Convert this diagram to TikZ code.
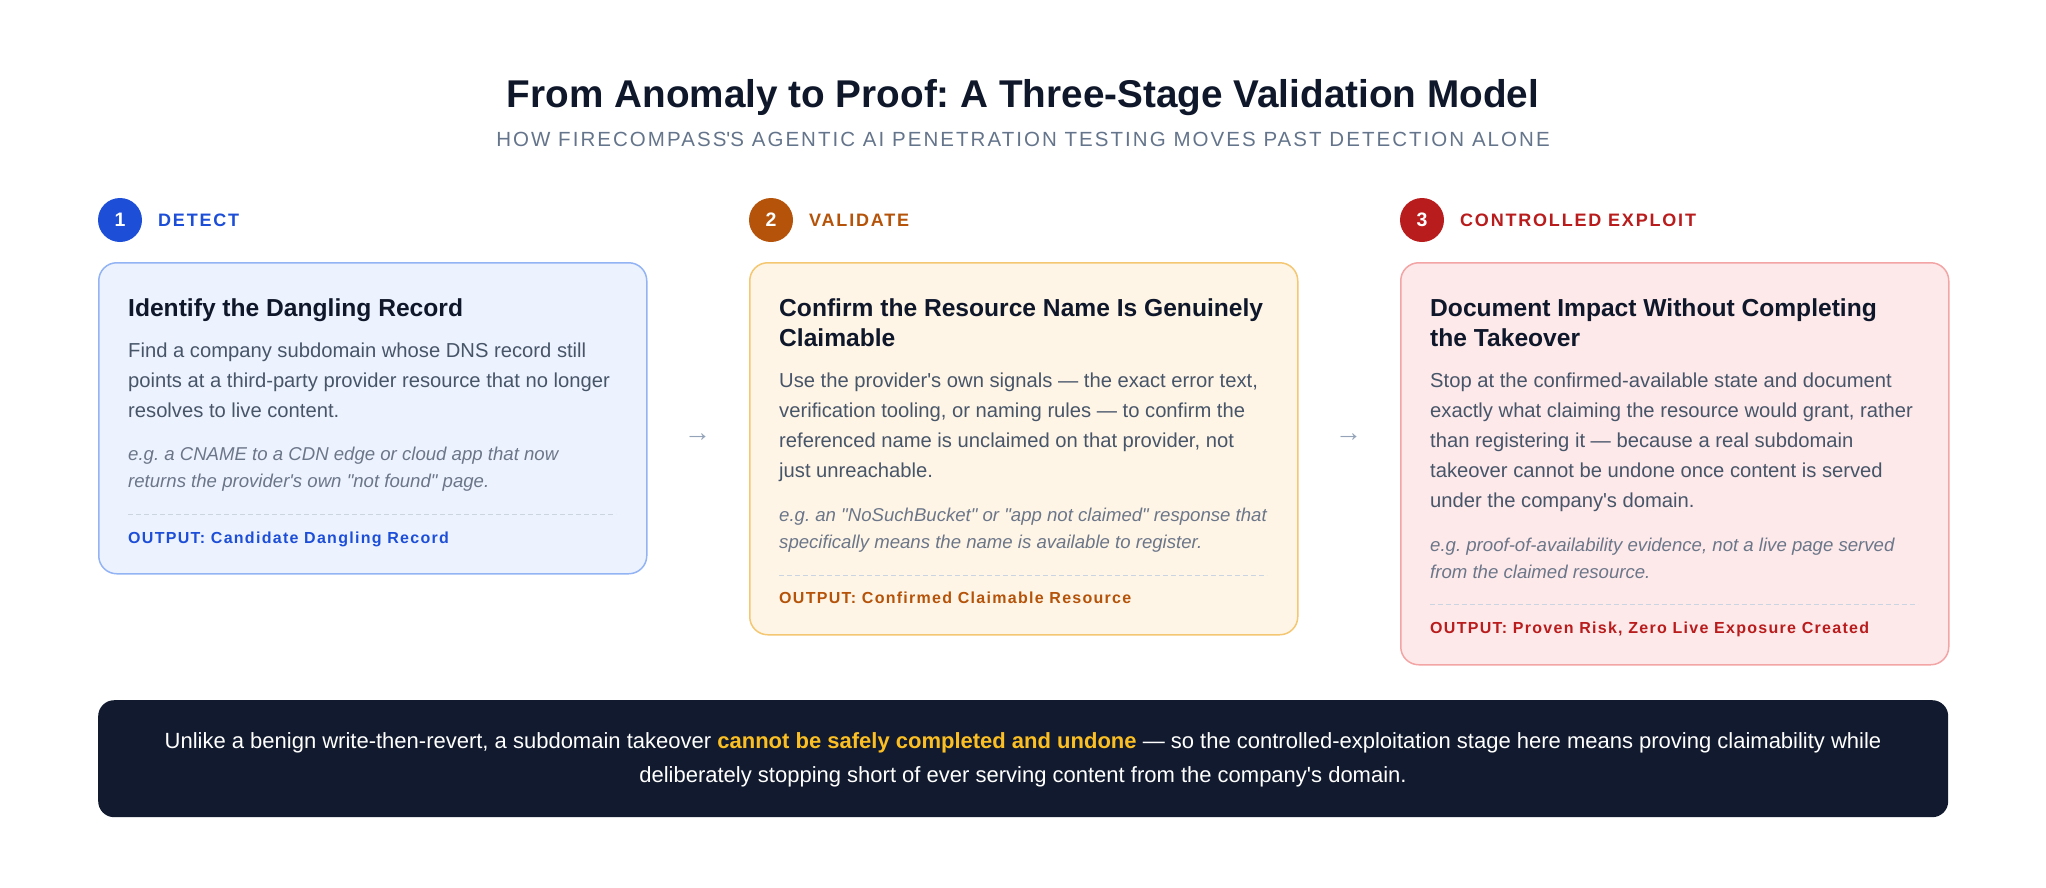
\documentclass[tikz,border=0pt]{standalone}
\usepackage{fontspec}
\setmainfont{Liberation Sans}
\definecolor{cInk}{HTML}{0F172A}
\definecolor{cSub}{HTML}{64748B}
\definecolor{cBody}{HTML}{475569}
\definecolor{cEx}{HTML}{6B7689}
\definecolor{cDash}{HTML}{CBD5E1}
\definecolor{cArrow}{HTML}{94A3B8}
\definecolor{cBlue}{HTML}{1D4ED8}
\definecolor{cBlueFill}{HTML}{EDF3FE}
\definecolor{cBlueLine}{HTML}{93B4F4}
\definecolor{cOrange}{HTML}{B45309}
\definecolor{cOrangeFill}{HTML}{FFF5E6}
\definecolor{cOrangeLine}{HTML}{F4C772}
\definecolor{cRed}{HTML}{B91C1C}
\definecolor{cRedFill}{HTML}{FDE9EA}
\definecolor{cRedLine}{HTML}{F3A5A5}
\definecolor{cDark}{HTML}{111A2E}
\definecolor{cAmber}{HTML}{FBBF24}
\newcommand{\aq}{\XeTeXglyph\XeTeXcharglyph"27\relax}
\newcommand{\dq}{\XeTeXglyph\XeTeXcharglyph"22\relax}
\newcommand{\plines}[1]{\begin{tabular}[t]{@{}l@{}}#1\end{tabular}}
\newcommand{\clines}[1]{\begin{tabular}[t]{@{}c@{}}#1\end{tabular}}
\tikzset{
  card/.style={draw, line width=1.5pt, rounded corners=18pt, minimum width=548pt, anchor=north west, inner sep=0pt},
  txt/.style={inner sep=0pt, anchor=base west},
  badge/.style={circle, minimum size=44pt, inner sep=0pt},
  badgenum/.style={inner sep=0pt, anchor=base, text=white, font=\fontsize{19.5}{20}\selectfont\bfseries},
  steplabel/.style={inner sep=0pt, anchor=base west, font=\fontsize{18}{20}\selectfont\bfseries\addfontfeatures{LetterSpace=10}},
  cardtitle/.style={txt, text=cInk, font=\fontsize{24.6}{30}\selectfont\bfseries},
  cardbody/.style={txt, text=cBody, font=\fontsize{20.2}{30}\selectfont},
  cardex/.style={txt, text=cEx, font=\fontsize{18.6}{27.5}\selectfont\itshape},
  cardout/.style={txt, font=\fontsize{16}{20}\selectfont\bfseries\addfontfeatures{LetterSpace=8}},
  divider/.style={draw=cDash, line width=1pt, dash pattern=on 5pt off 3pt},
  flowglyph/.style={inner sep=0pt, text=cArrow, font=\fontsize{27}{27}\selectfont},
}
\begin{document}
\frenchspacing
\begin{tikzpicture}[x=1pt,y=-1pt]
\path[use as bounding box, fill=white] (0,0) rectangle (2046,887);

% heading
\node[inner sep=0pt, anchor=base, text=cInk, font=\fontsize{38.7}{40}\selectfont\bfseries] (title) at (1023,107) {From Anomaly to Proof: A Three-Stage Validation Model};
\node[inner sep=0pt, anchor=base, text=cSub, font=\fontsize{20.5}{22}\selectfont\addfontfeatures{LetterSpace=10}] (subtitle) at (1023,146) {HOW FIRECOMPASS\aq S AGENTIC AI PENETRATION TESTING MOVES PAST DETECTION ALONE};

% step headers
\node[badge, fill=cBlue] (c1) at (120,220) {};
\node[badgenum] (n1) at (120,226.7) {1};
\node[steplabel, text=cBlue] (l1) at (158,226.7) {DETECT};
\node[badge, fill=cOrange] (c2) at (771,220) {};
\node[badgenum] (n2) at (771,226.7) {2};
\node[steplabel, text=cOrange] (l2) at (809,226.7) {VALIDATE};
\node[badge, fill=cRed] (c3) at (1422,220) {};
\node[badgenum] (n3) at (1422,226.7) {3};
\node[steplabel, text=cRed] (l3) at (1460,226.7) {CONTROLLED EXPLOIT};

% cards
\node[card, draw=cBlueLine, fill=cBlueFill, minimum height=311pt] (b1) at (98,262) {};
\node[card, draw=cOrangeLine, fill=cOrangeFill, minimum height=372pt] (b2) at (749,262) {};
\node[card, draw=cRedLine, fill=cRedFill, minimum height=402pt] (b3) at (1400,262) {};

% card 1
\node[cardtitle] (t1) at (128,316) {\plines{Identify the Dangling Record}};
\node[cardbody] (p1) at (128,357) {\plines{Find a company subdomain whose DNS record still\\points at a third-party provider resource that no longer\\resolves to live content.}};
\node[cardex] (e1) at (128,460) {\plines{e.g. a CNAME to a CDN edge or cloud app that now\\returns the provider\aq s own \dq not found\dq\ page.}};
\draw[divider] (128,514) -- (616,514);
\node[cardout, text=cBlue] (o1) at (128,543) {OUTPUT: Candidate Dangling Record};

% card 2
\node[cardtitle] (t2) at (779,316) {\plines{Confirm the Resource Name Is Genuinely\\Claimable}};
\node[cardbody] (p2) at (779,387) {\plines{Use the provider\aq s own signals — the exact error text,\\verification tooling, or naming rules — to confirm the\\referenced name is unclaimed on that provider, not\\just unreachable.}};
\node[cardex] (e2) at (779,521) {\plines{e.g. an \dq NoSuchBucket\dq\ or \dq app not claimed\dq\ response that\\specifically means the name is available to register.}};
\draw[divider] (779,575) -- (1267,575);
\node[cardout, text=cOrange] (o2) at (779,603) {OUTPUT: Confirmed Claimable Resource};

% card 3
\node[cardtitle] (t3) at (1430,316) {\plines{Document Impact Without Completing\\the Takeover}};
\node[cardbody] (p3) at (1430,387) {\plines{Stop at the confirmed-available state and document\\exactly what claiming the resource would grant, rather\\than registering it — because a real subdomain\\takeover cannot be undone once content is served\\under the company\aq s domain.}};
\node[cardex] (e3) at (1430,551) {\plines{e.g. proof-of-availability evidence, not a live page served\\from the claimed resource.}};
\draw[divider] (1430,604) -- (1918,604);
\node[cardout, text=cRed] (o3) at (1430,633) {OUTPUT: Proven Risk, Zero Live Exposure Created};

% flow glyphs between cards
\node[flowglyph] (a12) at (697.5,438) {→};
\node[flowglyph] (a23) at (1348.5,438) {→};

% bottom note
\node[fill=cDark, rounded corners=16pt, minimum width=1850pt, minimum height=117pt, anchor=north west, inner sep=0pt] (note) at (98,700) {};
\node[inner sep=0pt, anchor=base, text=white, font=\fontsize{22}{34}\selectfont] (notetext) at (1023,748) {\clines{Unlike a benign write-then-revert, a subdomain takeover {\bfseries\color{cAmber}cannot be safely completed and undone} — so the controlled-exploitation stage here means proving claimability while\\deliberately stopping short of ever serving content from the company\aq s domain.}};
\end{tikzpicture}
\end{document}
